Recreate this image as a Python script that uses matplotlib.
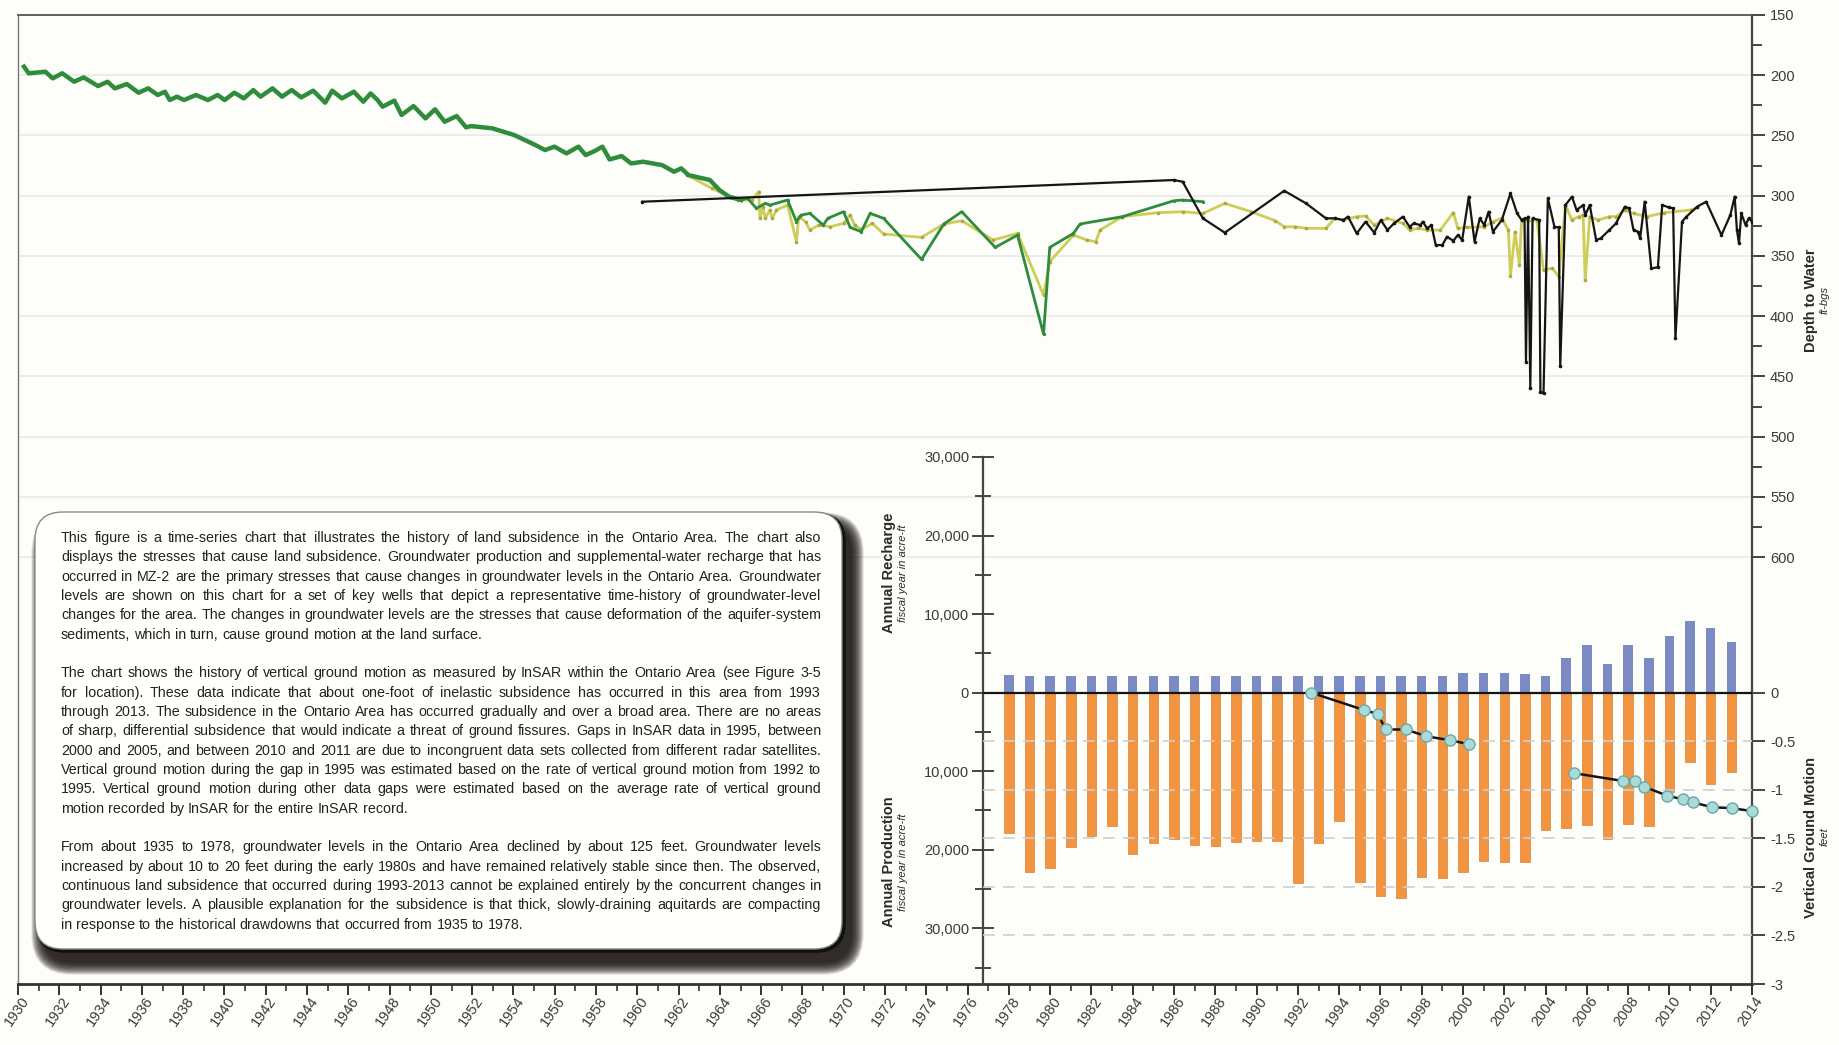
import numpy as np
import matplotlib.pyplot as plt
import matplotlib.transforms as mtransforms
from matplotlib import font_manager
from matplotlib.patches import FancyBboxPatch

plt.rcParams['font.family'] = ['Liberation Sans', 'DejaVu Sans']
plt.rcParams['axes.unicode_minus'] = False

# ---- groundwater levels (depth to water, ft-bgs) ----
# long-record well, 1930-1965 (seasonal swings)
green_yr = [1930.29, 1930.52, 1931.33, 1931.68, 1932.14, 1932.72, 1933.18, 1933.88, 1934.34, 1934.69,
            1935.27, 1935.84, 1936.31, 1936.77, 1937.12, 1937.35, 1937.70, 1938.04, 1938.62, 1939.20,
            1939.67, 1940.01, 1940.48, 1940.94, 1941.40, 1941.75, 1942.33, 1942.79, 1943.26, 1943.72,
            1944.30, 1944.88, 1945.22, 1945.69, 1946.27, 1946.73, 1947.08, 1947.42, 1947.66, 1948.23,
            1948.58, 1949.16, 1949.74, 1950.20, 1950.67, 1951.25, 1951.71, 1951.94, 1952.98, 1954.03,
            1955.07, 1955.53, 1955.99, 1956.57, 1957.15, 1957.50, 1957.96, 1958.31, 1958.66, 1959.24,
            1959.70, 1960.28, 1961.20, 1961.78, 1962.13, 1962.48, 1963.52, 1963.98, 1964.45, 1965.03]
green_dp = [192.9, 198.4, 197.1, 202.6, 198.4, 205.4, 201.8, 209.0, 205.4, 210.9,
            207.3, 214.5, 210.9, 216.4, 213.7, 220.6, 217.8, 220.6, 216.4, 220.6,
            216.4, 220.6, 214.5, 219.2, 212.3, 217.8, 210.9, 217.8, 212.3, 218.4,
            212.8, 222.8, 212.8, 219.2, 213.7, 222.0, 215.1, 220.6, 226.1, 221.1,
            233.0, 225.6, 235.8, 228.3, 238.6, 233.9, 243.3, 242.2, 244.1, 249.6,
            258.0, 262.1, 259.3, 264.9, 259.3, 266.3, 262.7, 259.3, 269.9, 267.1,
            273.2, 271.8, 274.6, 280.1, 277.3, 282.9, 287.0, 295.3, 300.9, 303.6]
# same well, sparse readings 1965-1987
green2_yr = [1965.03, 1965.34, 1965.77, 1966.20, 1966.42, 1967.28, 1967.71, 1967.93, 1968.36, 1969.01,
             1969.23, 1969.99, 1970.31, 1970.85, 1971.28, 1971.93, 1973.77, 1974.85, 1975.72, 1977.34,
             1978.42, 1979.68, 1979.98, 1981.13, 1981.45, 1983.50, 1985.99, 1986.42, 1987.40]
green2_dp = [303.6, 302.2, 310.5, 306.4, 307.8, 303.6, 321.6, 316.1, 314.7, 324.4,
             318.8, 313.3, 326.3, 329.9, 314.7, 318.8, 352.9, 323.5, 313.3, 342.9,
             332.7, 414.9, 342.9, 331.3, 323.5, 317.4, 304.2, 303.6, 305.0]

yel_yr = [1962.42, 1963.61, 1964.47, 1964.90, 1965.55, 1965.88, 1965.94, 1966.09, 1966.20, 1966.42,
          1966.53, 1966.74, 1967.28, 1967.71, 1967.82, 1968.15, 1968.36, 1968.80, 1969.34, 1969.99,
          1970.31, 1970.53, 1970.85, 1971.39, 1971.93, 1973.77, 1974.85, 1975.72, 1977.23, 1978.42,
          1979.68, 1979.98, 1981.13, 1981.78, 1982.21, 1982.42, 1983.50, 1985.24, 1986.42, 1987.40,
          1988.46, 1989.74, 1990.91, 1991.34, 1991.87, 1992.40, 1993.36, 1993.79, 1994.21, 1994.85,
          1995.28, 1995.70, 1996.34, 1997.09, 1997.41, 1997.83, 1998.26, 1998.90, 1999.53, 1999.75,
          2000.17, 2001.03, 2001.45, 2001.88, 2002.20, 2002.30, 2002.52, 2002.73, 2002.84, 2003.15,
          2003.58, 2003.90, 2004.33, 2004.64, 2004.96, 2005.28, 2005.60, 2005.82, 2005.92, 2006.14,
          2006.56, 2007.09, 2007.41, 2007.84, 2008.26, 2008.90, 2009.76, 2011.03, 2011.35]
yel_dp = [282.9, 293.9, 300.8, 303.6, 303.6, 296.7, 318.8, 309.1, 318.8, 311.9,
          318.8, 311.9, 307.8, 338.2, 317.4, 321.6, 328.5, 324.4, 325.8, 323.0,
          316.1, 324.4, 328.0, 323.0, 331.8, 334.6, 323.5, 320.8, 336.8, 331.3,
          382.5, 354.8, 332.7, 336.8, 338.2, 328.5, 317.4, 314.1, 313.3, 314.7,
          306.4, 313.3, 320.8, 325.8, 325.8, 327.1, 327.1, 318.8, 320.2, 317.4,
          316.9, 324.4, 318.8, 323.0, 328.5, 327.1, 328.5, 328.5, 314.1, 327.1,
          326.3, 325.8, 321.6, 318.8, 328.5, 366.7, 329.9, 357.6, 320.2, 320.8,
          320.2, 361.7, 360.3, 367.3, 307.8, 320.2, 317.4, 316.1, 370.0, 317.4,
          320.2, 317.4, 317.4, 311.9, 314.7, 317.4, 314.1, 311.9, 309.7]

blk_yr = [1960.25, 1985.99, 1986.42, 1987.40, 1988.46, 1991.34, 1992.40, 1993.36, 1993.79, 1994.21,
          1994.43, 1994.85, 1995.28, 1995.70, 1996.02, 1996.34, 1996.66, 1997.09, 1997.41, 1997.62,
          1997.94, 1998.05, 1998.26, 1998.47, 1998.68, 1999.00, 1999.22, 1999.53, 1999.75, 1999.96,
          2000.28, 2000.56, 2000.81, 2001.03, 2001.24, 2001.45, 2001.88, 2002.30, 2002.62, 2002.84,
          2002.98, 2003.05, 2003.15, 2003.26, 2003.37, 2003.69, 2003.75, 2003.90, 2004.11, 2004.43,
          2004.64, 2004.71, 2004.96, 2005.28, 2005.50, 2005.82, 2005.92, 2006.14, 2006.45, 2006.67,
          2007.09, 2007.41, 2007.84, 2008.05, 2008.26, 2008.48, 2008.58, 2008.80, 2009.12, 2009.44,
          2009.65, 2009.97, 2010.18, 2010.29, 2010.61, 2010.82, 2011.35, 2011.78, 2012.52, 2012.95,
          2013.16, 2013.27, 2013.37, 2013.48, 2013.69, 2013.84, 2014.01]
blk_dp = [305.0, 287.0, 288.4, 318.8, 330.7, 295.9, 306.4, 318.8, 318.8, 320.2,
          317.4, 331.3, 321.6, 330.7, 320.2, 328.5, 323.0, 317.4, 325.8, 323.0,
          324.4, 321.6, 327.1, 324.4, 341.0, 341.0, 334.1, 337.4, 332.7, 336.8,
          300.8, 338.2, 318.8, 324.4, 313.3, 329.9, 320.2, 298.1, 314.7, 320.2,
          318.8, 437.9, 317.4, 460.0, 318.8, 320.2, 462.8, 464.2, 302.2, 325.8,
          326.3, 441.5, 307.8, 300.8, 311.9, 307.8, 316.1, 307.8, 336.8, 335.4,
          328.5, 323.0, 309.1, 310.5, 328.5, 329.9, 335.4, 305.0, 360.3, 359.5,
          307.8, 309.7, 310.5, 418.5, 321.6, 317.4, 309.1, 305.0, 332.7, 316.1,
          300.8, 328.5, 339.6, 314.7, 324.4, 318.8, 321.6]

# ---- annual recharge / production (acre-ft), fiscal years 1978-2013 ----
fy = list(range(1978, 2014))
recharge = [2250] + [2100] * 21 + [2560, 2560, 2560, 2340, 2100,
                                   4400, 6100, 3700, 6100, 4400, 7250, 9100, 8200, 6500]
production = [17900, 22900, 22300, 19700, 18200, 17000, 20600, 19200, 18600, 19400,
              19500, 19000, 18900, 18900, 24300, 19200, 16400, 24100, 25900, 26100,
              23500, 23600, 22900, 21500, 21600, 21600, 17500, 17300, 16800, 18600,
              16700, 17000, 12600, 8800, 11600, 10100]

# ---- InSAR vertical ground motion (ft) ----
gm1_yr = [1992.63, 1995.21, 1995.86, 1996.26, 1997.23, 1998.22, 1999.35, 2000.27]
gm1 = [0.0, -0.18, -0.22, -0.38, -0.38, -0.45, -0.49, -0.53]
gm2_yr = [2005.39, 2007.74, 2008.34, 2008.78, 2009.88, 2010.65, 2011.13, 2012.05, 2013.02, 2014.0]
gm2 = [-0.83, -0.91, -0.91, -0.97, -1.06, -1.10, -1.13, -1.18, -1.19, -1.22]

year_ticks = list(range(1930, 2015, 2))
depth_ticks = list(range(150, 601, 50))
gm_ticks = [0, -0.5, -1, -1.5, -2, -2.5, -3]
gm_labels = ['0', '-0.5', '-1', '-1.5', '-2', '-2.5', '-3']
flow_ticks = [30000, 20000, 10000, 0, -10000, -20000, -30000]
flow_labels = ['30,000', '20,000', '10,000', '0', '10,000', '20,000', '30,000']

paragraphs = [
    ["This figure is a time-series chart that illustrates the history of land subsidence in the Ontario Area. The chart also",
     "displays the stresses that cause land subsidence. Groundwater production and supplemental-water recharge that has",
     "occurred in MZ-2 are the primary stresses that cause changes in groundwater levels in the Ontario Area. Groundwater",
     "levels are shown on this chart for a set of key wells that depict a representative time-history of groundwater-level",
     "changes for the area. The changes in groundwater levels are the stresses that cause deformation of the aquifer-system",
     "sediments, which in turn, cause ground motion at the land surface."],
    ["The chart shows the history of vertical ground motion as measured by InSAR within the Ontario Area (see Figure 3-5",
     "for location). These data indicate that about one-foot of inelastic subsidence has occurred in this area from 1993",
     "through 2013. The subsidence in the Ontario Area has occurred gradually and over a broad area.  There are no areas",
     "of sharp, differential subsidence that would indicate a threat of ground fissures. Gaps in InSAR data in 1995, between",
     "2000 and 2005, and between 2010 and 2011 are due to incongruent data sets collected from different radar satellites.",
     "Vertical ground motion during the gap in 1995 was estimated based on the rate of vertical ground motion from 1992 to",
     "1995. Vertical ground motion during other data gaps were estimated based on the average rate of vertical ground",
     "motion recorded by InSAR for the entire InSAR record."],
    ["From about 1935 to 1978, groundwater levels in the Ontario Area declined by about 125 feet. Groundwater levels",
     "increased by about 10 to 20 feet during the early 1980s and have remained relatively stable since then. The observed,",
     "continuous land subsidence that occurred during 1993-2013 cannot be explained entirely by the concurrent changes in",
     "groundwater levels. A plausible explanation for the subsidence is that thick, slowly-draining aquitards are compacting",
     "in response to the historical drawdowns that occurred from 1935 to 1978."],
]

W, H = 1839, 1045
bg = '#fdfdf9'
tick_c = '#444444'
lab_c = '#3a3a3a'


def rect(x0, y0, x1, y1):
    # pixel box (top-left origin) -> figure fraction rect
    return [x0 / W, 1 - y1 / H, (x1 - x0) / W, (y1 - y0) / H]


def year_at(px):
    return 1930 + (px - 18) / (1752 - 18) * 84


fig = plt.figure(figsize=(W / 100, H / 100), dpi=100, facecolor=bg)

# ---------------- depth-to-water panel ----------------
ax = fig.add_axes(rect(18, 15, 1752, 984))
ax.set_facecolor(bg)
ax.set_xlim(1930, 2014)
ax.set_ylim(954.4, 150)

ax.plot(yel_yr, yel_dp, color='#cdcd58', lw=2.0, marker='o', ms=2.6, mfc='#a9a945', mec='none', zorder=3)
ax.plot(green_yr, green_dp, color='#2f8c3b', lw=3.2, zorder=4)
ax.plot(green2_yr, green2_dp, color='#2f8c3b', lw=2.0, marker='o', ms=2.4, mec='none', zorder=4)
ax.plot(blk_yr, blk_dp, color='#151515', lw=1.6, marker='o', ms=2.6, mec='none', zorder=5)

ax.yaxis.tick_right()
ax.set_yticks(depth_ticks)
ax.set_yticks(list(range(175, 600, 50)), minor=True)
ax.grid(axis='y', which='major', color='#ececec', lw=1.4, zorder=0)
ax.tick_params(axis='y', which='major', direction='out', length=9, width=1.4, color=tick_c,
               labelsize=10.5, labelcolor=lab_c, pad=4)
ax.tick_params(axis='y', which='minor', direction='out', length=7, width=1.4, color=tick_c)

ax.set_xticks(year_ticks)
ax.set_xticks(list(range(1931, 2014, 2)), minor=True)
ax.tick_params(axis='x', which='major', direction='out', length=8, width=1.4, color='#333333',
               labelsize=10.5, labelcolor=lab_c, pad=2)
ax.tick_params(axis='x', which='minor', direction='out', length=5, width=1.2, color='#333333')
shift = mtransforms.ScaledTranslation(0.08, 0, fig.dpi_scale_trans)
for lbl in ax.get_xticklabels():
    lbl.set_rotation(55)
    lbl.set_ha('right')
    lbl.set_va('center')
    lbl.set_rotation_mode('anchor')
    lbl.set_transform(lbl.get_transform() + shift)

ax.spines['left'].set_color('#777777')
ax.spines['left'].set_linewidth(1.0)
ax.spines['top'].set_color('#555555')
ax.spines['top'].set_linewidth(1.3)
ax.spines['right'].set_color('#444444')
ax.spines['right'].set_linewidth(1.6)
ax.spines['bottom'].set_color('#333333')
ax.spines['bottom'].set_linewidth(2.0)

# ---------------- text box ----------------
axo = fig.add_axes([0, 0, 1, 1])
axo.set_xlim(0, W)
axo.set_ylim(H, 0)
axo.axis('off')

bx, by, bw, bh, rad = 35, 512, 807, 437, 28
for i in range(18):
    s = 18 - i
    axo.add_patch(FancyBboxPatch((bx + 9 - s * 0.7, by + 13 - s * 0.7), bw + s * 1.4, bh + s * 1.4,
                                 boxstyle=f"round,pad=0,rounding_size={rad + s * 0.7}",
                                 fc='#1a1410', ec='none', alpha=0.11, zorder=1))
axo.add_patch(FancyBboxPatch((bx + 2, by + 2), bw, bh, boxstyle=f"round,pad=0,rounding_size={rad}",
                             fc='#111111', ec='#111111', lw=2.6, zorder=2))
axo.add_patch(FancyBboxPatch((bx, by), bw, bh, boxstyle=f"round,pad=0,rounding_size={rad}",
                             fc='#fffffc', ec='#8a8a8a', lw=1.0, zorder=3))

names = {f.name for f in font_manager.fontManager.ttflist}
if 'Liberation Sans Narrow' in names:
    body_family = ['Liberation Sans Narrow', 'DejaVu Sans']
else:
    body_family = ['Liberation Sans', 'DejaVu Sans']

renderer = fig.canvas.get_renderer()
tx0, tx1 = 61, 821

# pick the largest size at which the longest line still fits the column
probe = axo.text(0, 0, '', family=body_family, size=10)
widest = 0
for para in paragraphs:
    for line in para:
        probe.set_text(line)
        widest = max(widest, probe.get_window_extent(renderer).width)
probe.remove()
body_size = min(10.6, 10 * (tx1 - tx0 - 6) / widest)


def put_line(line, y, justify):
    words = line.split()
    arts = [axo.text(0, y, w, color='#222222', va='center', ha='left', zorder=4,
                     family=body_family, size=body_size) for w in words]
    widths = [a.get_window_extent(renderer).width for a in arts]
    if justify and len(words) > 1:
        gap = (tx1 - tx0 - sum(widths)) / (len(words) - 1)
    else:
        gap = body_size * 0.38
    x = tx0
    for a, w in zip(arts, widths):
        a.set_x(x)
        x += w + gap


k = 0
for para in paragraphs:
    for j, line in enumerate(para):
        put_line(line, 538 + 19.33 * k, j < len(para) - 1)
        k += 1
    k += 1

# ---------------- recharge / production bars ----------------
axb = fig.add_axes(rect(983, 457, 1752, 984))
axb.patch.set_alpha(0)
axb.set_xlim(year_at(983), 2014)
axb.set_ylim(-37100, 30000)

axb.bar(fy, recharge, width=0.46, color='#7d8bc5', zorder=2)
axb.bar(fy, [-p for p in production], width=0.46, color='#f39441', ec='#d98133', lw=0.5, zorder=2)
axb.axhline(0, color='#151515', lw=1.6, zorder=3)

for s in ['top', 'right', 'bottom']:
    axb.spines[s].set_visible(False)
axb.spines['left'].set_color('#444444')
axb.spines['left'].set_linewidth(1.6)
axb.set_xticks([])
axb.set_yticks(flow_ticks)
axb.set_yticklabels(flow_labels)
axb.set_yticks(list(range(-35000, 30000, 10000)), minor=True)
axb.tick_params(axis='y', which='major', direction='inout', length=16, width=1.4, color=tick_c,
                labelsize=10.5, labelcolor=lab_c, pad=2)
axb.tick_params(axis='y', which='minor', direction='inout', length=11, width=1.4, color=tick_c)

# ---------------- InSAR ground motion ----------------
axg = axb.twinx()
axg.set_ylim(-3, 2.425)
for s in axg.spines.values():
    s.set_visible(False)
for v in gm_ticks[1:-1]:
    axg.axhline(v, color='#cfcfcf', lw=1.2, ls=(0, (7, 5)), zorder=1)
for yr, gm in [(gm1_yr, gm1), (gm2_yr, gm2)]:
    axg.plot(yr, gm, color='#151515', lw=1.8, marker='o', ms=8, mfc='#aadbd7', mec='#6aa8aa',
             mew=1.0, zorder=5, clip_on=False)
axg.set_yticks(gm_ticks)
axg.set_yticklabels(gm_labels)
axg.tick_params(axis='y', direction='out', length=9, width=1.4, color=tick_c,
                labelsize=10.5, labelcolor=lab_c, pad=4)

# ---------------- axis titles ----------------
def vlabel(x, y, title, sub, sub_dx):
    fig.text(x / W, 1 - y / H, title, rotation=90, ha='center', va='center',
             fontsize=10.5, fontweight='bold', color='#2a2a2a')
    fig.text((x + sub_dx) / W, 1 - y / H, sub, rotation=90, ha='center', va='center',
             fontsize=8, fontstyle='italic', color='#2a2a2a')


vlabel(1811, 300, 'Depth to Water', 'ft-bgs', 14)
vlabel(1811, 837, 'Vertical Ground Motion', 'feet', 14)
vlabel(889, 573, 'Annual Recharge', 'fiscal year in acre-ft', 14)
vlabel(889, 862, 'Annual Production', 'fiscal year in acre-ft', 14)

fig.savefig('out.png', dpi=100, facecolor=bg)
